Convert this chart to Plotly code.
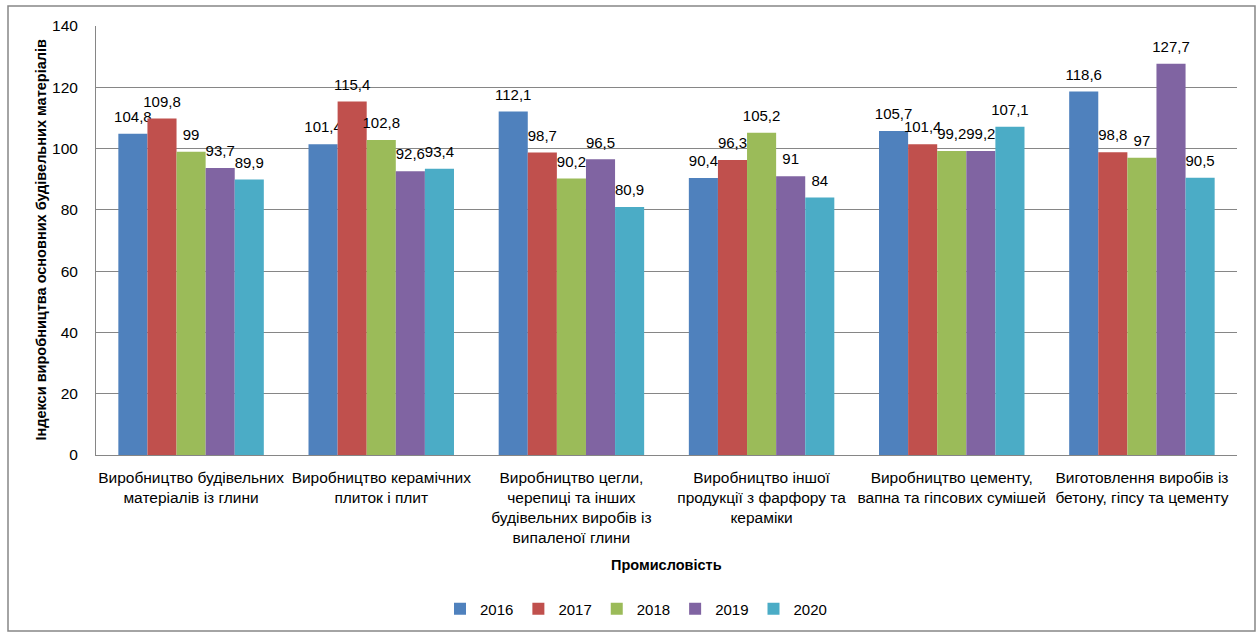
import plotly.graph_objects as go

categories = [
    "Виробництво будівельних<br>матеріалів із глини",
    "Виробництво керамічних<br>плиток і плит",
    "Виробництво цегли,<br>черепиці та інших<br>будівельних виробів із<br>випаленої глини",
    "Виробництво іншої<br>продукції з фарфору та<br>кераміки",
    "Виробництво цементу,<br>вапна та гіпсових сумішей",
    "Виготовлення виробів із<br>бетону, гіпсу та цементу",
]
years = ["2016", "2017", "2018", "2019", "2020"]
v2016 = [104.8, 101.4, 112.1, 90.4, 105.7, 118.6]
v2017 = [109.8, 115.4, 98.7, 96.3, 101.4, 98.8]
v2018 = [99, 102.8, 90.2, 105.2, 99.2, 97]
v2019 = [93.7, 92.6, 96.5, 91, 99.2, 127.7]
v2020 = [89.9, 93.4, 80.9, 84, 107.1, 90.5]
series = [v2016, v2017, v2018, v2019, v2020]
colors = ["#4F81BD", "#C0504D", "#9BBB59", "#8064A2", "#4BACC6"]
y_ticks = [0, 20, 40, 60, 80, 100, 120, 140]

FONT = "Liberation Sans"

def fmt(v):
    s = ("%g" % v).replace(".", ",")
    # a short empty line below the label lifts it above the bar, like Excel's outside-end labels
    return "<span style='font-size:15px'>" + s + "</span><br>\u00a0"

fig = go.Figure()
for yr, vals, col in zip(years, series, colors):
    fig.add_trace(go.Bar(
        name=yr, x=categories, y=vals, marker=dict(color=col, line=dict(width=0)),
        text=[fmt(v) for v in vals], textposition="outside", constraintext="none",
        textfont=dict(family=FONT, size=6, color="#000000"),
        cliponaxis=False,
    ))

L, R, T, B = 96, 22, 26, 177
W, H = 1259, 632
pw, ph = W - L - R, H - T - B

def px_x(x):
    return (x - L) / pw

def px_y(y):
    return (H - B - y) / ph

fig.update_layout(
    width=W, height=H,
    margin=dict(l=L, r=R, t=T, b=B, autoexpand=False),
    paper_bgcolor="white", plot_bgcolor="white",
    barmode="group", bargap=0.235, bargroupgap=0,
    font=dict(family=FONT, size=15, color="#000000"),
    showlegend=True,
    legend=dict(orientation="h", x=px_x(636), xanchor="center", y=px_y(609), yanchor="middle",
                font=dict(family=FONT, size=15), itemwidth=30, traceorder="normal",
                tracegroupgap=0),
)
fig.update_xaxes(
    showline=True, linecolor="#868686", linewidth=1, showgrid=False,
    tickfont=dict(family=FONT, size=15.5), ticks="", tickangle=0, ticklabelstandoff=8,
)
fig.update_yaxes(
    range=[0, 140], tickvals=y_ticks, showline=True, linecolor="#868686", linewidth=1,
    showgrid=True, gridcolor="#868686", gridwidth=1, zeroline=False,
    tickfont=dict(family=FONT, size=15.5), ticks="", ticklabelstandoff=14,
)
fig.add_annotation(
    text="<b>Індекси виробництва основних будівельних матеріалів</b>",
    xref="paper", yref="paper", x=px_x(40), y=0.5, textangle=-90,
    showarrow=False, font=dict(family=FONT, size=14.5),
    xanchor="center", yanchor="middle",
)
fig.add_annotation(
    text="<b>Промисловість</b>",
    xref="paper", yref="paper", x=px_x(666), y=px_y(565),
    showarrow=False, font=dict(family=FONT, size=14.5),
    xanchor="center", yanchor="middle",
)
fig.add_shape(
    type="rect", xref="paper", yref="paper",
    x0=px_x(8), x1=px_x(1255), y0=px_y(631), y1=px_y(6),
    line=dict(color="#868686", width=1.5), fillcolor="rgba(0,0,0,0)", layer="below",
)
fig.write_html("out.html")
